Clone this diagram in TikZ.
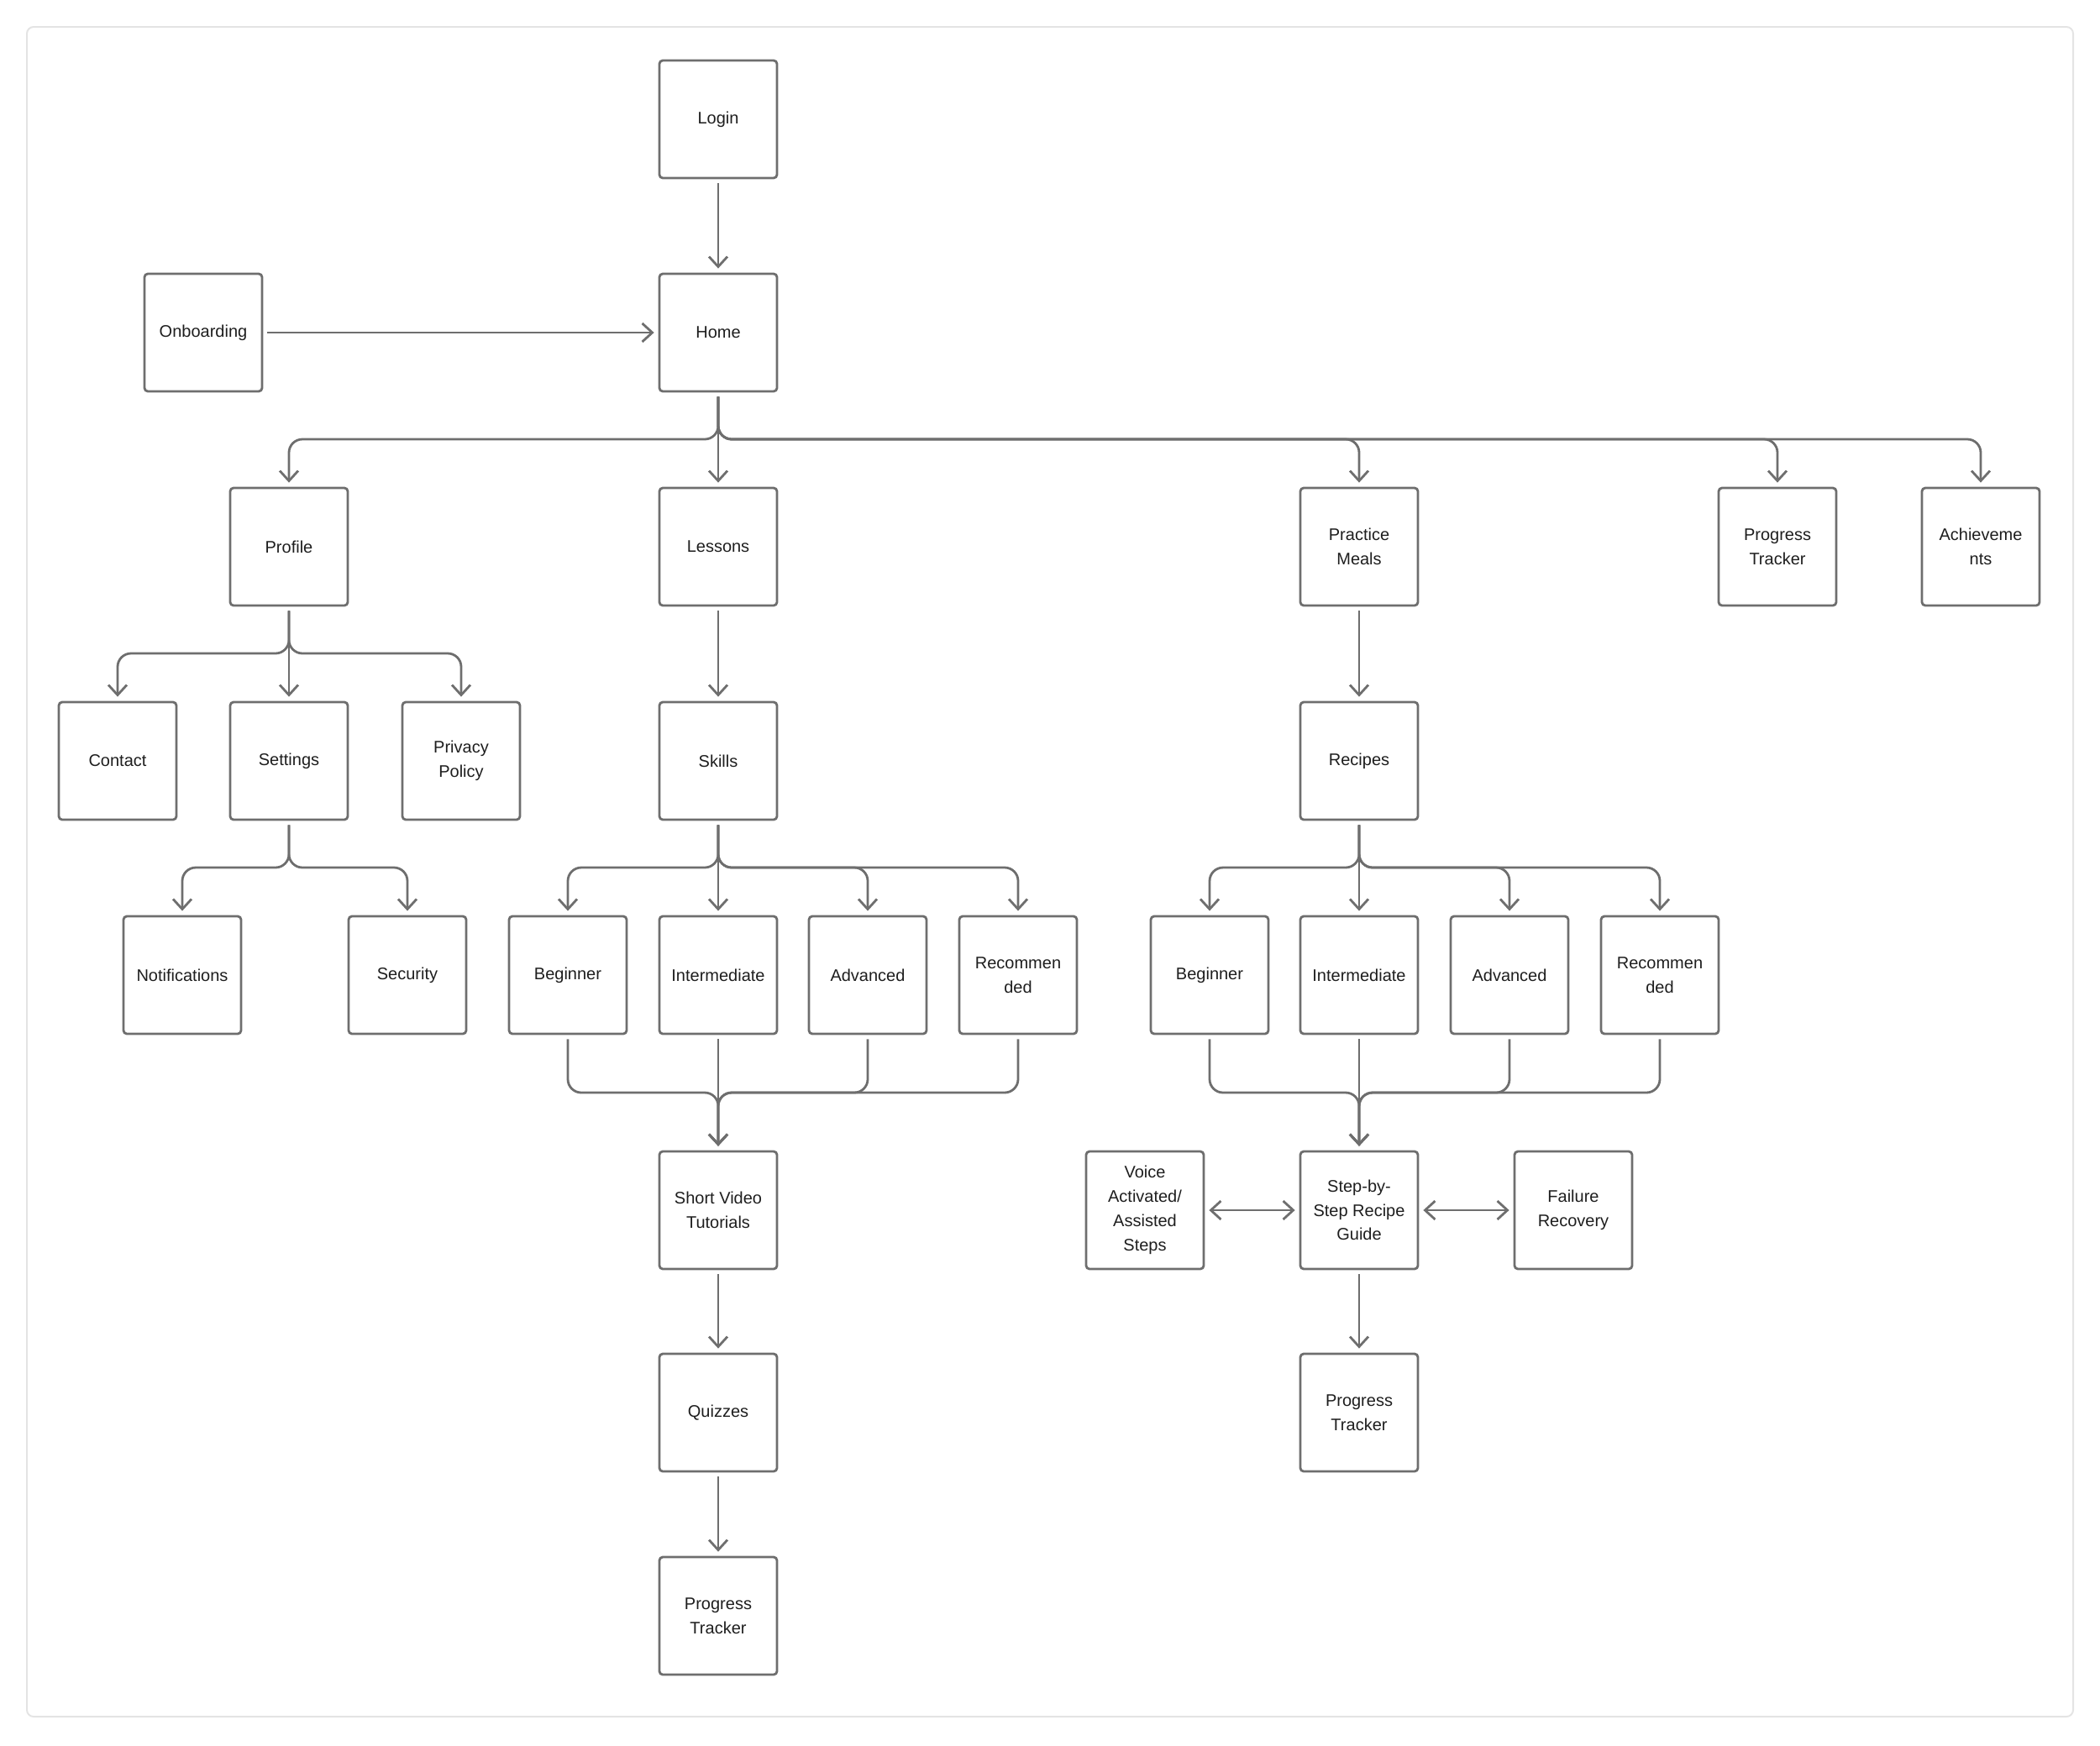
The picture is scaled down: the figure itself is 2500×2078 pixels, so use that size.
\documentclass[tikz,border=0pt]{standalone}
\usepackage{fontspec}
\setmainfont{Liberation Sans}
\usetikzlibrary{arrows.meta}
\definecolor{edge}{HTML}{6E6E6E}
\definecolor{ink}{HTML}{1E1E1E}
\definecolor{framegray}{HTML}{E4E4E4}
\begin{document}
\begin{tikzpicture}[x=0.5pt,y=0.5pt,
  box/.style={draw=edge,line width=1.4pt,rounded corners=2pt,minimum width=70pt,minimum height=70pt,inner sep=0pt,outer sep=3.2pt,align=center,text=ink,font=\fontsize{10}{14.4}\selectfont},
  link/.style={draw=edge,line width=1.4pt,rounded corners=8pt,->,>={Straight Barb[length=6pt,width=11pt]}}]
	\useasboundingbox(0,0)rectangle(2500,-2078);
	\draw[framegray,line width=1pt,rounded corners=4pt](32,-32)rectangle(2468,-2044);
	\node(login)at(855,-142)[box]{Login};
	\node(home)at(855,-396)[box]{Home};
	\node(onboard)at(242,-396)[box]{Onboarding};
	\node(profile)at(344,-651)[box]{Profile};
	\node(lessons)at(855,-651)[box]{Lessons};
	\node(practice)at(1618,-651)[box]{Practice\\Meals};
	\node(progress)at(2116,-651)[box]{Progress\\Tracker};
	\node(achieve)at(2358,-651)[box]{Achieveme\\nts};
	\node(contact)at(140,-906)[box]{Contact};
	\node(settings)at(344,-906)[box]{Settings};
	\node(privacy)at(549,-906)[box]{Privacy\\Policy};
	\node(skills)at(855,-906)[box]{Skills};
	\node(recipes)at(1618,-906)[box]{Recipes};
	\node(notif)at(217,-1161)[box]{Notifications};
	\node(security)at(485,-1161)[box]{Security};
	\node(sbeg)at(676,-1161)[box]{Beginner};
	\node(sint)at(855,-1161)[box]{Intermediate};
	\node(sadv)at(1033,-1161)[box]{Advanced};
	\node(srec)at(1212,-1161)[box]{Recommen\\ded};
	\node(rbeg)at(1440,-1161)[box]{Beginner};
	\node(rint)at(1618,-1161)[box]{Intermediate};
	\node(radv)at(1797,-1161)[box]{Advanced};
	\node(rrec)at(1976,-1161)[box]{Recommen\\ded};
	\node(video)at(855,-1441)[box]{Short Video\\Tutorials};
	\node(voice)at(1363,-1441)[box]{Voice\\Activated/\\Assisted\\Steps};
	\node(guide)at(1618,-1441)[box]{Step-by-\\Step Recipe\\Guide};
	\node(failure)at(1873,-1441)[box]{Failure\\Recovery};
	\node(quizzes)at(855,-1682)[box]{Quizzes};
	\node(rtrack)at(1618,-1682)[box]{Progress\\Tracker};
	\node(ltrack)at(855,-1924)[box]{Progress\\Tracker};
	\coordinate(hj)at(855,-523);
	\coordinate(pj)at(344,-778);
	\coordinate(tj)at(344,-1033);
	\coordinate(kj)at(855,-1033);
	\coordinate(cj)at(1618,-1033);
	\coordinate(vj)at(855,-1301);
	\coordinate(gj)at(1618,-1301);
	\draw[link](login)--(home);
	\draw[link](onboard)--(home);
	\draw[link](home)--(lessons);
	\draw[link](home.south)--(hj)-|(profile.north);
	\draw[link](home.south)--(hj)-|(practice.north);
	\draw[link](home.south)--(hj)-|(progress.north);
	\draw[link](home.south)--(hj)-|(achieve.north);
	\draw[link](profile)--(settings);
	\draw[link](profile.south)--(pj)-|(contact.north);
	\draw[link](profile.south)--(pj)-|(privacy.north);
	\draw[link](settings.south)--(tj)-|(notif.north);
	\draw[link](settings.south)--(tj)-|(security.north);
	\draw[link](lessons)--(skills);
	\draw[link](skills)--(sint);
	\draw[link](skills.south)--(kj)-|(sbeg.north);
	\draw[link](skills.south)--(kj)-|(sadv.north);
	\draw[link](skills.south)--(kj)-|(srec.north);
	\draw[link](sint)--(video);
	\draw[link](sbeg.south)|-(vj)--(video.north);
	\draw[link](sadv.south)|-(vj)--(video.north);
	\draw[link](srec.south)|-(vj)--(video.north);
	\draw[link](video)--(quizzes);
	\draw[link](quizzes)--(ltrack);
	\draw[link](practice)--(recipes);
	\draw[link](recipes)--(rint);
	\draw[link](recipes.south)--(cj)-|(rbeg.north);
	\draw[link](recipes.south)--(cj)-|(radv.north);
	\draw[link](recipes.south)--(cj)-|(rrec.north);
	\draw[link](rint)--(guide);
	\draw[link](rbeg.south)|-(gj)--(guide.north);
	\draw[link](radv.south)|-(gj)--(guide.north);
	\draw[link](rrec.south)|-(gj)--(guide.north);
	\draw[link,<->](voice)--(guide);
	\draw[link,<->](guide)--(failure);
	\draw[link](guide)--(rtrack);
\end{tikzpicture}
\end{document}
